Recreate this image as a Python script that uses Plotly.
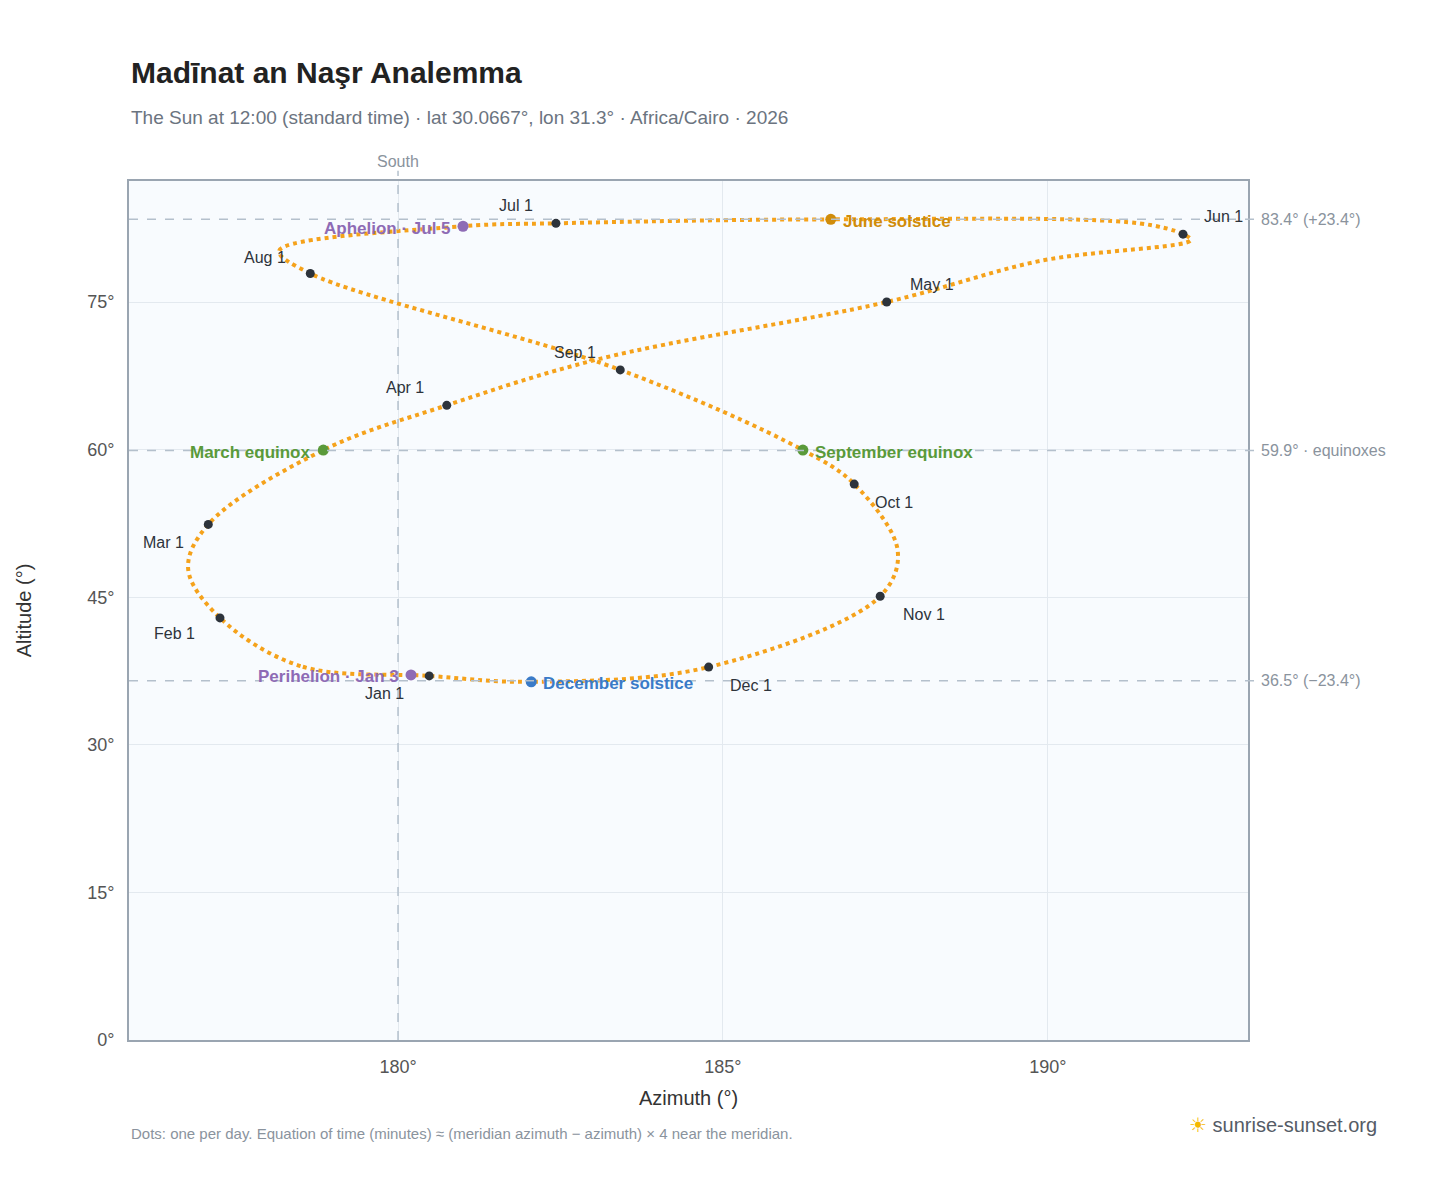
import plotly.graph_objects as go

# path of the noon sun (azimuth, altitude)
path_az = [180.48, 178.5, 177.26, 176.77, 177.08, 178.85, 180.75, 183.09, 187.52, 189.9,
           192.2, 192.08, 191.4, 186.66, 182.43, 181.0, 178.17, 178.65, 183.42, 186.23,
           187.02, 187.69, 187.42, 184.78, 182.05, 180.48]
path_alt = [37.0, 38.0, 42.9, 47.9, 52.4, 59.95, 64.5, 69.2, 75.0, 79.2,
            81.3, 81.9, 83.0, 83.4, 83.0, 82.7, 80.2, 77.9, 68.1, 59.95,
            56.5, 49.7, 45.1, 37.9, 36.4, 37.0]

months = ["Jan 1", "Feb 1", "Mar 1", "Apr 1", "May 1", "Jun 1",
          "Jul 1", "Aug 1", "Sep 1", "Oct 1", "Nov 1", "Dec 1"]
month_az = [180.48, 177.26, 177.08, 180.75, 187.52, 192.08, 182.43, 178.65, 183.42, 187.02, 187.42, 184.78]
month_alt = [37.0, 42.9, 52.4, 64.5, 75.0, 81.9, 83.0, 77.9, 68.1, 56.5, 45.1, 37.9]
month_shift = [(-45, -18), (-45, -16), (-45, -18), (-42, 18), (45, 18), (40, 18),
               (-40, 18), (-45, 16), (-45, 17), (40, -18), (44, -18), (42, -18)]

events = ["Perihelion · Jan 3", "March equinox", "June solstice",
          "Aphelion · Jul 5", "September equinox", "December solstice"]
event_az = [180.2, 178.85, 186.66, 181.0, 186.23, 182.05]
event_alt = [37.1, 59.95, 83.4, 82.7, 59.95, 36.4]
event_col = ["#8e6bb5", "#5a9a3a", "#d08c0a", "#8e6bb5", "#5a9a3a", "#3a7bc8"]
event_side = ["left", "left", "right", "left", "right", "right"]

ref_alt = [83.4, 59.9, 36.5]
ref_text = ["83.4° (+23.4°)", "59.9° · equinoxes", "36.5° (−23.4°)"]

fig = go.Figure()
fig.add_trace(go.Scatter(x=path_az, y=path_alt, mode="lines", line_shape="spline",
                         line=dict(color="#f5a21b", width=4, dash="dot", smoothing=1.0),
                         hoverinfo="skip"))
fig.add_trace(go.Scatter(x=month_az, y=month_alt, mode="markers",
                         marker=dict(color="#2d333b", size=9)))
fig.add_trace(go.Scatter(x=event_az, y=event_alt, mode="markers",
                         marker=dict(color=event_col, size=11)))

for m, x, y, (dx, dy) in zip(months, month_az, month_alt, month_shift):
    fig.add_annotation(x=x, y=y, text=m, showarrow=False, xshift=dx, yshift=dy,
                       font=dict(size=16, color="#2d333b"))
for t, x, y, c, s in zip(events, event_az, event_alt, event_col, event_side):
    fig.add_annotation(x=x, y=y, text="<b>%s</b>" % t, showarrow=False,
                       xanchor="right" if s == "left" else "left",
                       xshift=-10 if s == "left" else 10, yshift=-2,
                       font=dict(size=17, color=c))

for y, t in zip(ref_alt, ref_text):
    fig.add_shape(type="line", xref="paper", x0=0, x1=1.012, y0=y, y1=y,
                  line=dict(color="#b4c0cc", width=1.5, dash="dash"))
    fig.add_annotation(xref="paper", x=1.01, y=y, text=t, showarrow=False, xanchor="left",
                       font=dict(size=16, color="#8a939d"))
fig.add_shape(type="line", yref="paper", x0=180, x1=180, y0=0, y1=1.012,
              line=dict(color="#b4c0cc", width=1.5, dash="dash"))
fig.add_annotation(x=180, yref="paper", y=1.01, text="South", showarrow=False, yanchor="bottom",
                   font=dict(size=16, color="#8a939d"))

fig.add_annotation(xref="paper", yref="paper", x=0, y=1.148, xanchor="left", showarrow=False,
                   text="<b>Madīnat an Naşr Analemma</b>", font=dict(size=30, color="#222"))
fig.add_annotation(xref="paper", yref="paper", x=0, y=1.089, xanchor="left", showarrow=False,
                   text="The Sun at 12:00 (standard time) · lat 30.0667°, lon 31.3° · Africa/Cairo · 2026",
                   font=dict(size=19, color="#6b7480"))
fig.add_annotation(xref="paper", yref="paper", x=0, y=-0.121, xanchor="left", showarrow=False,
                   text="Dots: one per day. Equation of time (minutes) ≈ (meridian azimuth − azimuth) × 4 near the meridian.",
                   font=dict(size=15, color="#8a939d"))
fig.add_annotation(xref="paper", yref="paper", x=1.117, y=-0.114, xanchor="right", showarrow=False,
                   text="<span style='color:#f5b800'>☀</span> sunrise-sunset.org",
                   font=dict(size=20, color="#555c66"))

fig.update_layout(
    width=1448, height=1188, showlegend=False,
    font=dict(family="Liberation Sans, Arial, sans-serif"),
    paper_bgcolor="white", plot_bgcolor="#f8fbfe",
    margin=dict(l=121, r=208, t=173, b=156),
    xaxis=dict(range=[175.86, 193.08], tickvals=[180, 185, 190], ticktext=["180°", "185°", "190°"],
               title=dict(text="Azimuth (°)", font=dict(size=20, color="#333")),
               gridcolor="#e3e9ef", zeroline=False, showline=True, linecolor="#9aa5b1", mirror=True,
               linewidth=2, tickfont=dict(size=18, color="#555"), ticks="outside", ticklen=9,
               tickcolor="white"),
    yaxis=dict(range=[0, 87.3], tickvals=[0, 15, 30, 45, 60, 75],
               ticktext=["0°", "15°", "30°", "45°", "60°", "75°"],
               title=dict(text="Altitude (°)", font=dict(size=20, color="#333"), standoff=50),
               gridcolor="#e3e9ef", zeroline=False, showline=True, linecolor="#9aa5b1", mirror=True,
               linewidth=2, tickfont=dict(size=18, color="#555"), ticks="outside", ticklen=9,
               tickcolor="white"),
)
fig.write_html("out.html")
